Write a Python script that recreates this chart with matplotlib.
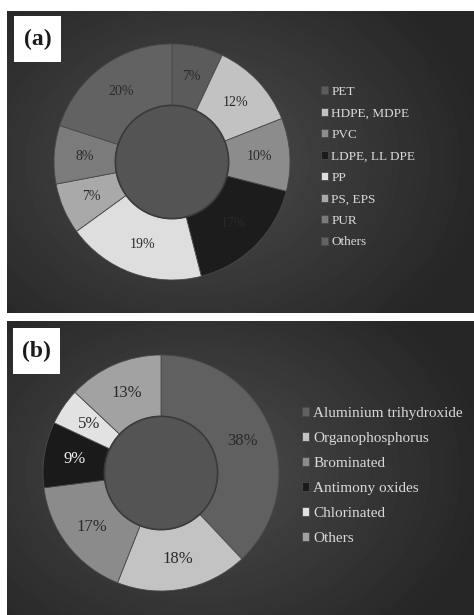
import numpy as np
import matplotlib
matplotlib.use("Agg")
import matplotlib.pyplot as plt
from matplotlib.patches import Circle

plt.rcParams['font.family'] = ['Liberation Serif', 'DejaVu Serif']

# Plastic types (a) and flame retardants (b), shares in %
plastics = ['PET', 'HDPE, MDPE', 'PVC', 'LDPE, LLDPE', 'PP', 'PS, EPS', 'PUR', 'Others']
plastic_share = [7, 12, 10, 17, 19, 7, 8, 20]
plastic_colors = ['#5b5b5b', '#c2c2c2', '#8c8c8c', '#1c1c1c', '#dedede', '#a9a9a9', '#7b7b7b', '#626262']
plastic_legend = ['PET', 'HDPE, MDPE', 'PVC', 'LDPE, LL DPE', 'PP', 'PS, EPS', 'PUR', 'Others']

retardants = ['Aluminium trihydroxide', 'Organophosphorus', 'Brominated',
              'Antimony oxides', 'Chlorinated', 'Others']
retardant_share = [38, 18, 17, 9, 5, 13]
retardant_colors = ['#606060', '#c3c3c3', '#8b8b8b', '#1a1a1a', '#e2e2e2', '#a2a2a2']

W, H = 474, 615
fig = plt.figure(figsize=(W / 100, H / 100), dpi=100, facecolor='white')


def px_axes(x0, y0, w, h):
    # axes placed in pixel units measured from the top-left corner
    return fig.add_axes([x0 / W, (H - y0 - h) / H, w / W, h / H])


def panel_background(x0, y0, w, h, cx, cy):
    ax = px_axes(x0, y0, w, h)
    yy, xx = np.mgrid[0:h, 0:w]
    d = np.sqrt(((xx - cx) / (0.62 * w)) ** 2 + ((yy - cy) / (0.75 * h)) ** 2)
    shade = np.clip(0.30 - 0.15 * d, 0.15, 0.30)
    ax.imshow(shade, cmap='gray', vmin=0, vmax=1, aspect='auto',
              extent=[0, w, h, 0], interpolation='bilinear')
    ax.set_axis_off()
    return ax


def donut(cx, cy, r, values, colors, label_colors, fontsize):
    pad = 4
    ax = px_axes(cx - r - pad, cy - r - pad, 2 * r + 2 * pad, 2 * r + 2 * pad)
    wedges, texts = ax.pie(values, colors=colors, startangle=90, counterclock=False,
                           radius=1.0, labels=[f'{v}%' for v in values],
                           labeldistance=0.74,
                           wedgeprops=dict(width=0.52, edgecolor='#4a4a4a', linewidth=0.6),
                           textprops=dict(fontsize=fontsize))
    lim = (r + pad) / r
    ax.set_xlim(-lim, lim)
    ax.set_ylim(-lim, lim)
    ax.set_aspect('equal')
    ax.set_axis_off()
    for t, c in zip(texts, label_colors):
        t.set_color(c)
        t.set_ha('center')
        t.set_va('center')
    ax.add_patch(Circle((0, 0), 0.48, facecolor='#545454', edgecolor='#3a3a3a', linewidth=1.2))
    return wedges


def tag(x0, y0, w, h, text):
    ax = px_axes(x0, y0, w, h)
    ax.set_facecolor('white')
    ax.set_xticks([])
    ax.set_yticks([])
    for s in ax.spines.values():
        s.set_visible(False)
    ax.text(0.5, 0.5, text, ha='center', va='center', fontsize=17,
            fontweight='bold', color='#1a1a1a', transform=ax.transAxes)


# (a) plastics
panel_background(7, 11, 467, 302, 190, 150)
wedges_a = donut(172, 162, 118, plastic_share, plastic_colors,
                 ['#2a2a2a'] * len(plastics), 10)
tag(14, 16, 47, 46, '(a)')
fig.legend(wedges_a, plastic_legend, loc='center left',
           bbox_to_anchor=(314 / W, 1 - 167 / H), frameon=False,
           fontsize=9.5, labelcolor='#dadada', handlelength=0.55, handleheight=0.55,
           handletextpad=0.25, labelspacing=0.72, borderpad=0)

# (b) flame retardants
panel_background(7, 321, 467, 294, 190, 150)
wedges_b = donut(161, 473, 118, retardant_share, retardant_colors,
                 ['#2a2a2a', '#2a2a2a', '#2a2a2a', '#f0f0f0', '#2a2a2a', '#2a2a2a'], 12)
tag(13, 328, 47, 46, '(b)')
fig.legend(wedges_b, retardants, loc='center left',
           bbox_to_anchor=(294 / W, 1 - 476 / H), frameon=False,
           fontsize=11, labelcolor='#dadada', handlelength=0.5, handleheight=0.5,
           handletextpad=0.25, labelspacing=0.78, borderpad=0)

fig.savefig('out.png', dpi=100, facecolor='white')
